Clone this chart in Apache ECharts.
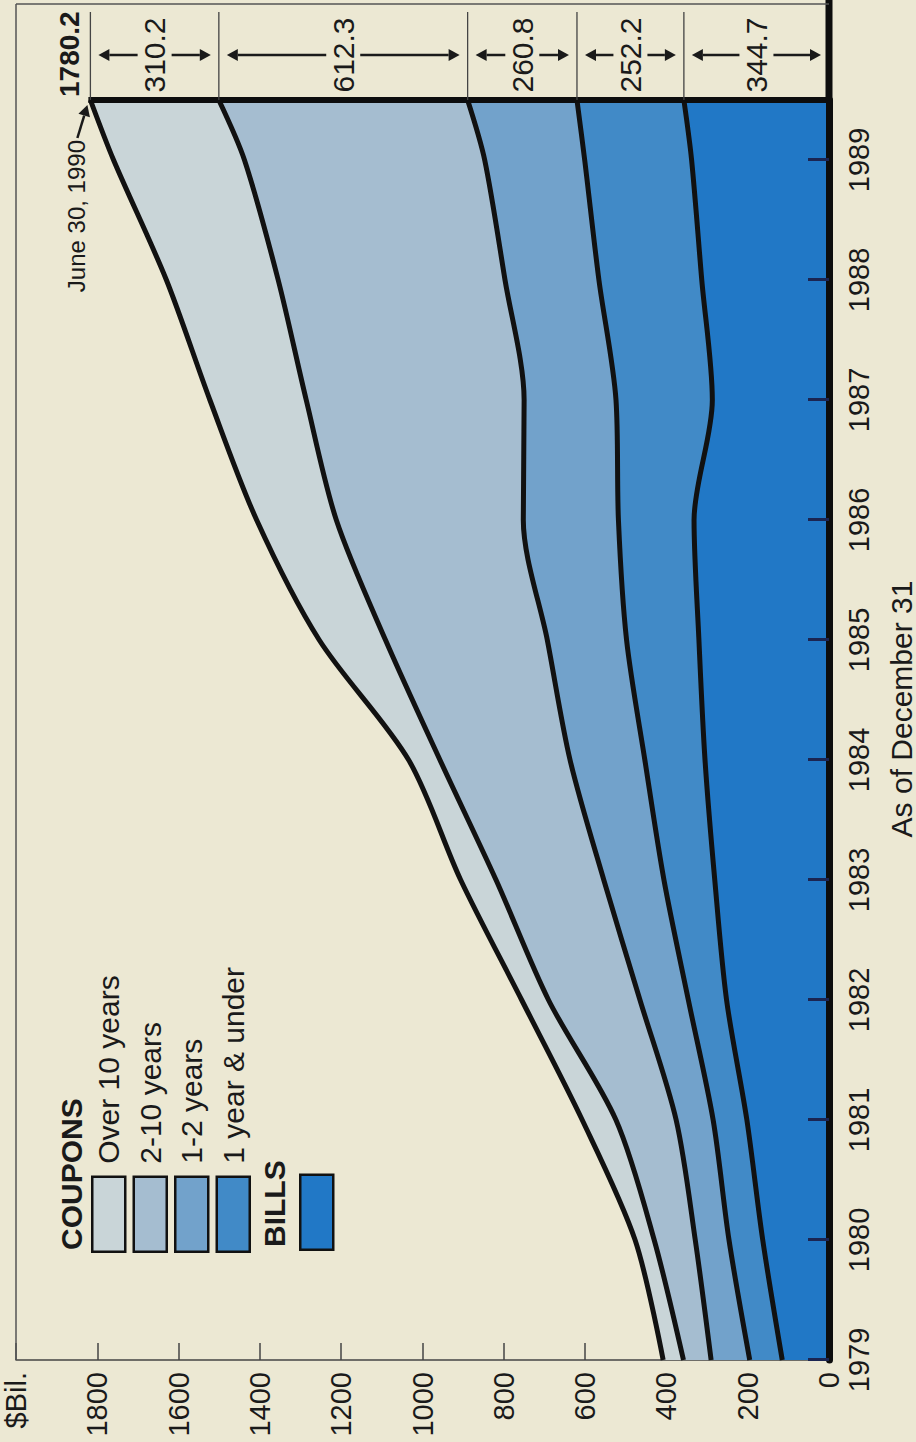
<!DOCTYPE html>
<html>
<head>
<meta charset="utf-8">
<script src="https://cdn.jsdelivr.net/npm/echarts@6/dist/echarts.min.js"></script>
<style>
html,body{margin:0;padding:0;background:#ece8d3;width:916px;height:1442px;overflow:hidden;}
#chart{position:absolute;left:0;top:1442px;width:1442px;height:916px;transform:rotate(-90deg);transform-origin:0 0;}
</style>
</head>
<body>
<div id="chart"></div>
<script>
// ---- data (as of December 31 each year; last point = June 30, 1990 = 1989.5) ----
const years = [1979, 1980, 1981, 1982, 1983, 1984, 1985, 1986, 1987, 1988, 1989, 1989.5];
const yearTicks = [1979, 1980, 1981, 1982, 1983, 1984, 1985, 1986, 1987, 1988, 1989];
const bills        = [115, 163, 202, 252, 281, 305, 320, 332, 287, 313, 338, 357];
const oneYearUnder = [ 80,  83,  83,  94, 125, 148, 178, 186, 237, 253, 263, 263];
const oneTwoYears  = [ 95,  83,  91, 119, 148, 184, 195, 234, 226, 231, 246, 269];
const twoTenYears  = [ 68, 101, 148, 225, 265, 320, 398, 460, 536, 558, 591, 612];
const overTenYears = [ 50,  47,  83,  66,  87,  77, 163, 196, 237, 275, 322, 316];
const endLabels = ['344.7', '252.2', '260.8', '612.3', '310.2']; // bills -> over 10 yrs
const endTotalLabel = '1780.2';
const endDateLabel = 'June 30, 1990';

const FONT = '"Liberation Sans", Arial, Helvetica, sans-serif';
const INK = '#1a1a1a';
const colors = {
  bills: '#2178c6',
  oneYear: '#418ac7',
  oneTwo: '#72a2cb',
  twoTen: '#a5bdd0',
  overTen: '#c9d5d8'
};

// stacked layers (bottom -> top), cumulative tops built from the band arrays
const layers = [
  {name: 'Bills', values: bills, color: colors.bills},
  {name: '1 year & under', values: oneYearUnder, color: colors.oneYear},
  {name: '1-2 years', values: oneTwoYears, color: colors.oneTwo},
  {name: '2-10 years', values: twoTenYears, color: colors.twoTen},
  {name: 'Over 10 years', values: overTenYears, color: colors.overTen}
];
let running = years.map(() => 0);
layers.forEach(l => { running = running.map((r, i) => r + l.values[i]); l.top = running.slice(); });

const chart = echarts.init(document.getElementById('chart'), null, {renderer: 'svg', width: 1442, height: 916});

// draw the tallest layer first so that each lower layer paints over it
const series = layers.slice().reverse().map(l => ({
  name: l.name,
  type: 'line',
  data: years.map((y, i) => [y, l.top[i]]),
  symbol: 'none',
  smooth: 0.3,
  lineStyle: {color: '#111', width: 5, join: 'round'},
  itemStyle: {color: l.color},
  areaStyle: {color: l.color, opacity: 1, origin: 'start'},
  emphasis: {disabled: true},
  silent: true,
  z: 2
}));

const legendItem = (name, color) => ({
  name: name,
  icon: 'rect',
  itemStyle: {color: color, borderColor: '#111', borderWidth: 2.5}
});

const option = {
  backgroundColor: '#ece8d3',
  animation: false,
  textStyle: {fontFamily: FONT},
  grid: {left: 82, right: 100, top: 16, bottom: 87, containLabel: false, outerBoundsMode: 'none'},
  title: [
    {text: 'COUPONS', left: 192, top: 56, padding: 0, textStyle: {fontFamily: FONT, fontSize: 30, fontWeight: 'bold', color: INK}},
    {text: 'BILLS', left: 195, top: 259, padding: 0, textStyle: {fontFamily: FONT, fontSize: 30, fontWeight: 'bold', color: INK}}
  ],
  legend: [
    {
      orient: 'vertical', left: 189, top: 91, padding: 0,
      itemWidth: 75, itemHeight: 33, itemGap: 6,
      selectedMode: false,
      textStyle: {fontFamily: FONT, fontSize: 30, color: INK, lineHeight: 33, padding: [0, 0, 0, 8]},
      data: [
        legendItem('Over 10 years', colors.overTen),
        legendItem('2-10 years', colors.twoTen),
        legendItem('1-2 years', colors.oneTwo),
        legendItem('1 year & under', colors.oneYear)
      ]
    },
    {
      orient: 'vertical', left: 191, top: 299, padding: 0,
      itemWidth: 75, itemHeight: 33,
      selectedMode: false,
      formatter: function () { return ''; },
      data: [legendItem('Bills', colors.bills)]
    }
  ],
  xAxis: {
    type: 'value',
    min: 1979, max: 1989.5, interval: 1,
    z: 5,
    name: 'As of December 31',
    nameLocation: 'middle',
    nameGap: 57,
    nameTextStyle: {fontFamily: FONT, fontSize: 30, color: INK, padding: [0, 0, 0, 42]},
    axisLine: {show: true, lineStyle: {color: '#0d0d0d', width: 7}},
    axisTick: {show: true, inside: true, length: 21, customValues: yearTicks, lineStyle: {color: '#1b2552', width: 3}},
    axisLabel: {
      customValues: yearTicks,
      margin: 15, fontSize: 29, color: INK, fontFamily: FONT,
      formatter: function (v) { return Number.isInteger(v) ? String(v) : ''; }
    },
    splitLine: {show: false}
  },
  yAxis: {
    type: 'value',
    min: 0, max: 2000, interval: 200,
    axisLine: {show: true, lineStyle: {color: '#444', width: 1.5}},
    axisTick: {show: true, inside: true, length: 17, lineStyle: {color: '#444', width: 1.5}},
    axisLabel: {
      margin: 12, fontSize: 29, color: INK, fontFamily: FONT,
      formatter: function (v) { return v === 2000 ? '$Bil.' : String(v); }
    },
    splitLine: {show: false}
  },
  series: series
};

chart.setOption(option);

// ---- decorations positioned through the chart's own scales ----
function P(x, y) { return chart.convertToPixel({gridIndex: 0}, [x, y]); }
function arrow(x1, y1, x2, y2, w) {
  const dx = x2 - x1, dy = y2 - y1, L = Math.hypot(dx, dy) || 1, ux = dx / L, uy = dy / L;
  const hl = 11, hw = 6;
  const bx = x2 - ux * hl, by = y2 - uy * hl;
  return [
    {type: 'line', z: 100, shape: {x1: x1, y1: y1, x2: bx, y2: by}, style: {stroke: INK, lineWidth: w}},
    {type: 'polygon', z: 100, shape: {points: [[x2, y2], [bx - uy * hw, by + ux * hw], [bx + uy * hw, by - ux * hw]]}, style: {fill: INK}}
  ];
}
function txt(text, x, y, size, weight, align) {
  return {type: 'text', z: 100, x: x, y: y,
    style: {text: text, fontFamily: FONT, fontSize: size, fontWeight: weight, fill: INK, align: align, verticalAlign: 'middle'}};
}

const last = years.length - 1;
const xEnd = years[last];
const cum = [0].concat(layers.map(l => l.top[last]));
const total = cum[cum.length - 1];

const pZero = P(xEnd, 0);
const pTop = P(xEnd, 2000);
const pStart = P(years[0], 2000);
const pTotal = P(xEnd, total);
const panelW = 96;
const g = [];

// right edge of the stacked area
g.push({type: 'line', z: 90, shape: {x1: pZero[0], y1: pZero[1] + 3, x2: pTotal[0], y2: pTotal[1] - 2}, style: {stroke: '#0d0d0d', lineWidth: 6}});
// thick base line continued under the value panel
g.push({type: 'line', z: 90, shape: {x1: pZero[0], y1: pZero[1], x2: pZero[0] + panelW + 4, y2: pZero[1]}, style: {stroke: '#0d0d0d', lineWidth: 7}});
// thin outer frame
g.push({type: 'line', z: 90, shape: {x1: pStart[0], y1: pTop[1], x2: pTop[0] + panelW, y2: pTop[1]}, style: {stroke: '#555', lineWidth: 1.5}});
g.push({type: 'line', z: 90, shape: {x1: pTop[0] + panelW, y1: pTop[1], x2: pTop[0] + panelW, y2: pZero[1]}, style: {stroke: '#555', lineWidth: 1.5}});

// separators and value cells
for (let i = 1; i < cum.length; i++) {
  const yy = P(xEnd, cum[i])[1];
  g.push({type: 'line', z: 90, shape: {x1: pZero[0], y1: yy, x2: pZero[0] + panelW - 8, y2: yy}, style: {stroke: '#444', lineWidth: 1.3}});
}
const cx = pZero[0] + 45;
for (let i = 0; i < endLabels.length; i++) {
  const yLow = P(xEnd, cum[i])[1];
  const yHigh = P(xEnd, cum[i + 1])[1];
  const yc = (yLow + yHigh) / 2;
  g.push(txt(endLabels[i], cx, yc, 30, 'normal', 'center'));
  g.push(...arrow(cx, yc - 17, cx, yHigh + 8, 2.5));
  g.push(...arrow(cx, yc + 17, cx, yLow - 8, 2.5));
}
// total and date
g.push(txt(endTotalLabel, pTotal[0] + 3, pTotal[1] - 21, 28, 'bold', 'left'));
g.push(txt(endDateLabel, pTotal[0] - 40, pTotal[1] - 14, 24, 'normal', 'right'));
g.push(...arrow(pTotal[0] - 38, pTotal[1] - 13, pTotal[0] - 5, pTotal[1] - 3, 2.5));

chart.setOption({graphic: g});
</script>
</body>
</html>
